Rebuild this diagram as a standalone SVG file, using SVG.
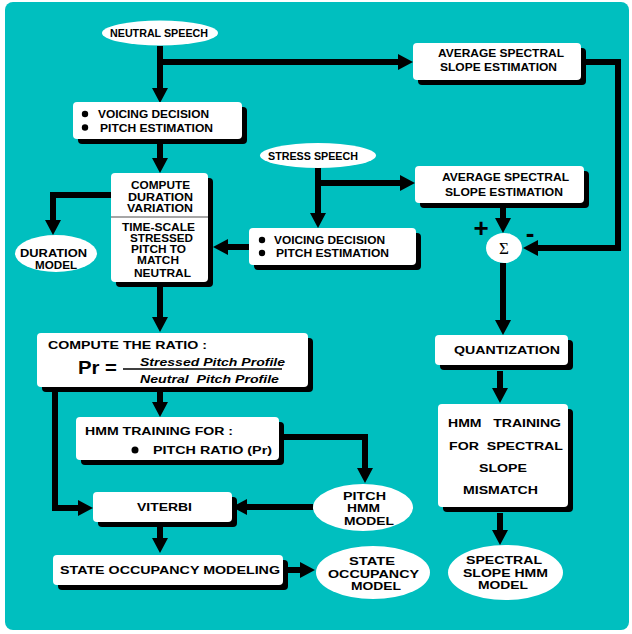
<svg xmlns="http://www.w3.org/2000/svg" width="632" height="634" viewBox="0 0 632 634">
<defs>
<style>
.bg{fill:#00BFBF}
.box{fill:#fff}
.sh{fill:#000}
.ell{fill:#fff}
.t{font-family:"Liberation Sans",Arial,sans-serif;font-weight:bold;font-size:11px;fill:#000}
.ts{font-size:10px}
.ti{font-style:italic}
.c{stroke:#000;stroke-width:6;fill:none;stroke-linejoin:miter}
.dot{fill:#000}
</style>
<marker id="ah" viewBox="0 0 15 16" refX="0" refY="8" markerWidth="15" markerHeight="16" markerUnits="userSpaceOnUse" orient="auto">
<path d="M0,0 L15,8 L0,16 z" fill="#000"/>
</marker>
</defs>
<rect x="0" y="0" width="632" height="634" fill="#fff"/>
<rect class="bg" x="5" y="2" width="624" height="628" rx="8"/>

<g id="connectors">
<path class="c" d="M160,46 V88" marker-end="url(#ah)"/>
<path class="c" d="M160,62 H398" marker-end="url(#ah)"/>
<path class="c" d="M160,143 V158" marker-end="url(#ah)"/>
<path class="c" d="M111,195 H53 V220" marker-end="url(#ah)"/>
<path class="c" d="M160,287 V317" marker-end="url(#ah)"/>
<path class="c" d="M318,168 V213" marker-end="url(#ah)"/>
<path class="c" d="M318,183 H400" marker-end="url(#ah)"/>
<path class="c" d="M249,247 H228" marker-end="url(#ah)"/>
<path class="c" d="M586,62 H618 V248 H538" marker-end="url(#ah)"/>
<path class="c" d="M503,207 V218" marker-end="url(#ah)"/>
<path class="c" d="M503,263 V320" marker-end="url(#ah)"/>
<path class="c" d="M500,371 V388" marker-end="url(#ah)"/>
<path class="c" d="M500,513 V530" marker-end="url(#ah)"/>
<path class="c" d="M160,392 V402" marker-end="url(#ah)"/>
<path class="c" d="M55,392 V508 H78" marker-end="url(#ah)"/>
<path class="c" d="M283,437 H365 V468" marker-end="url(#ah)"/>
<path class="c" d="M313,507 H247" marker-end="url(#ah)"/>
<path class="c" d="M160,527 V538" marker-end="url(#ah)"/>
<path class="c" d="M288,570 H300" marker-end="url(#ah)"/>
</g>

<g id="neutral-speech">
<ellipse class="ell" cx="160" cy="33" rx="58" ry="12.5"/>
<text class="t ts" x="110" y="37" textLength="98" lengthAdjust="spacingAndGlyphs">NEUTRAL SPEECH</text>
</g>

<g id="voicing-neutral">
<rect class="sh" x="78" y="107" width="169" height="37" rx="4"/>
<rect class="box" x="73" y="102" width="169" height="37" rx="4"/>
<circle class="dot" cx="85" cy="114" r="3.2"/>
<text class="t" x="98" y="118" textLength="111" lengthAdjust="spacingAndGlyphs">VOICING DECISION</text>
<circle class="dot" cx="85" cy="127.5" r="3.2"/>
<text class="t" x="100" y="131.5" textLength="113" lengthAdjust="spacingAndGlyphs">PITCH ESTIMATION</text>
</g>

<g id="avg-spectral-1">
<rect class="sh" x="418" y="48" width="168" height="37" rx="4"/>
<rect class="box" x="413" y="43" width="168" height="37" rx="4"/>
<text class="t" x="438" y="57" textLength="126" lengthAdjust="spacingAndGlyphs">AVERAGE SPECTRAL</text>
<text class="t" x="440" y="71" textLength="117" lengthAdjust="spacingAndGlyphs">SLOPE ESTIMATION</text>
</g>

<g id="stress-speech">
<ellipse class="ell" cx="318" cy="155.5" rx="58" ry="12.5"/>
<text class="t ts" x="268" y="159.5" textLength="90" lengthAdjust="spacingAndGlyphs">STRESS SPEECH</text>
</g>

<g id="avg-spectral-2">
<rect class="sh" x="420" y="171" width="169" height="37" rx="4"/>
<rect class="box" x="415" y="166" width="169" height="37" rx="4"/>
<text class="t" x="442" y="181" textLength="127" lengthAdjust="spacingAndGlyphs">AVERAGE SPECTRAL</text>
<text class="t" x="445" y="196" textLength="118" lengthAdjust="spacingAndGlyphs">SLOPE ESTIMATION</text>
</g>

<g id="compute-duration">
<rect class="sh" x="116" y="178" width="97" height="109" rx="4"/>
<rect class="box" x="111" y="173" width="97" height="109" rx="4"/>
<line x1="111" y1="217" x2="208" y2="217" stroke="#888" stroke-width="1.5"/>
<text class="t" x="131" y="189" textLength="59" lengthAdjust="spacingAndGlyphs">COMPUTE</text>
<text class="t" x="128" y="201" textLength="65" lengthAdjust="spacingAndGlyphs">DURATION</text>
<text class="t" x="127" y="212" textLength="66" lengthAdjust="spacingAndGlyphs">VARIATION</text>
<text class="t" x="122" y="231" textLength="73" lengthAdjust="spacingAndGlyphs">TIME-SCALE</text>
<text class="t" x="130" y="242" textLength="63" lengthAdjust="spacingAndGlyphs">STRESSED</text>
<text class="t" x="131" y="253" textLength="55" lengthAdjust="spacingAndGlyphs">PITCH TO</text>
<text class="t" x="137" y="264" textLength="42" lengthAdjust="spacingAndGlyphs">MATCH</text>
<text class="t" x="134" y="277" textLength="57" lengthAdjust="spacingAndGlyphs">NEUTRAL</text>
</g>

<g id="duration-model">
<ellipse class="ell" cx="56" cy="253.5" rx="41" ry="18.5"/>
<text class="t" x="20" y="257" textLength="67" lengthAdjust="spacingAndGlyphs">DURATION</text>
<text class="t" x="35" y="269" textLength="42" lengthAdjust="spacingAndGlyphs">MODEL</text>
</g>

<g id="voicing-stress">
<rect class="sh" x="254" y="233" width="167" height="37" rx="4"/>
<rect class="box" x="249" y="228" width="167" height="37" rx="4"/>
<circle class="dot" cx="262" cy="240" r="3.2"/>
<text class="t" x="274" y="244" textLength="111" lengthAdjust="spacingAndGlyphs">VOICING DECISION</text>
<circle class="dot" cx="262" cy="253" r="3.2"/>
<text class="t" x="276" y="257" textLength="113" lengthAdjust="spacingAndGlyphs">PITCH ESTIMATION</text>
</g>

<g id="sum">
<ellipse class="ell" cx="504" cy="248" rx="18" ry="15"/>
<text x="504" y="254" text-anchor="middle" font-family="'Liberation Serif','DejaVu Serif',serif" font-size="17">Σ</text>
<text class="t" x="481" y="237" text-anchor="middle" style="font-size:26px">+</text>
<text class="t" x="530" y="242" text-anchor="middle" style="font-size:26px">-</text>
</g>

<g id="compute-ratio">
<rect class="sh" x="42" y="338" width="271" height="54" rx="4"/>
<rect class="box" x="37" y="333" width="271" height="54" rx="4"/>
<text class="t" x="48" y="349" textLength="159" lengthAdjust="spacingAndGlyphs">COMPUTE THE RATIO :</text>
<text class="t" x="78" y="374" style="font-size:19px" textLength="39" lengthAdjust="spacingAndGlyphs">Pr =</text>
<line x1="123" y1="369" x2="282" y2="369" stroke="#000" stroke-width="1.5"/>
<text class="t ti" x="140" y="366" textLength="145" lengthAdjust="spacingAndGlyphs">Stressed Pitch Profile</text>
<text class="t ti" x="140" y="383" textLength="139" lengthAdjust="spacingAndGlyphs" xml:space="preserve">Neutral  Pitch Profile</text>
</g>

<g id="hmm-training-pitch">
<rect class="sh" x="81" y="422" width="203" height="43" rx="4"/>
<rect class="box" x="76" y="417" width="203" height="43" rx="4"/>
<text class="t" x="85" y="435" textLength="148" lengthAdjust="spacingAndGlyphs">HMM TRAINING FOR :</text>
<circle class="dot" cx="135" cy="450" r="3.5"/>
<text class="t" x="153" y="454" textLength="119" lengthAdjust="spacingAndGlyphs">PITCH RATIO (Pr)</text>
</g>

<g id="pitch-hmm-model">
<ellipse class="ell" cx="363" cy="507.5" rx="50" ry="23.5"/>
<text class="t" x="343" y="500" textLength="43" lengthAdjust="spacingAndGlyphs">PITCH</text>
<text class="t" x="347" y="512" textLength="33" lengthAdjust="spacingAndGlyphs">HMM</text>
<text class="t" x="344" y="525" textLength="50" lengthAdjust="spacingAndGlyphs">MODEL</text>
</g>

<g id="viterbi">
<rect class="sh" x="98" y="497" width="139" height="30" rx="4"/>
<rect class="box" x="93" y="492" width="139" height="30" rx="4"/>
<text class="t" x="137" y="510.5" textLength="55" lengthAdjust="spacingAndGlyphs">VITERBI</text>
</g>

<g id="state-occupancy-modeling">
<rect class="sh" x="58" y="560" width="230" height="30" rx="4"/>
<rect class="box" x="53" y="555" width="230" height="30" rx="4"/>
<text class="t" x="60" y="574" textLength="220" lengthAdjust="spacingAndGlyphs">STATE OCCUPANCY MODELING</text>
</g>

<g id="state-occupancy-model">
<ellipse class="ell" cx="373" cy="572.5" rx="57" ry="26.5"/>
<text class="t" x="349" y="565" textLength="46" lengthAdjust="spacingAndGlyphs">STATE</text>
<text class="t" x="328" y="578" textLength="91" lengthAdjust="spacingAndGlyphs">OCCUPANCY</text>
<text class="t" x="351" y="590" textLength="50" lengthAdjust="spacingAndGlyphs">MODEL</text>
</g>

<g id="quantization">
<rect class="sh" x="440" y="340" width="133" height="30" rx="4"/>
<rect class="box" x="435" y="335" width="133" height="30" rx="4"/>
<text class="t" x="454" y="354" textLength="106" lengthAdjust="spacingAndGlyphs">QUANTIZATION</text>
</g>

<g id="hmm-training-spectral">
<rect class="sh" x="443" y="409" width="130" height="103" rx="4"/>
<rect class="box" x="438" y="404" width="130" height="103" rx="4"/>
<text class="t" x="448" y="427" textLength="113" lengthAdjust="spacingAndGlyphs" xml:space="preserve">HMM   TRAINING</text>
<text class="t" x="449" y="450" textLength="114" lengthAdjust="spacingAndGlyphs" xml:space="preserve">FOR  SPECTRAL</text>
<text class="t" x="479" y="472" textLength="48" lengthAdjust="spacingAndGlyphs">SLOPE</text>
<text class="t" x="463" y="494" textLength="75" lengthAdjust="spacingAndGlyphs">MISMATCH</text>
</g>

<g id="spectral-slope-model">
<ellipse class="ell" cx="505.5" cy="572.5" rx="57.5" ry="27.5"/>
<text class="t" x="466" y="564" textLength="76" lengthAdjust="spacingAndGlyphs">SPECTRAL</text>
<text class="t" x="463" y="577" textLength="85" lengthAdjust="spacingAndGlyphs">SLOPE HMM</text>
<text class="t" x="478" y="589" textLength="50" lengthAdjust="spacingAndGlyphs">MODEL</text>
</g>
</svg>
